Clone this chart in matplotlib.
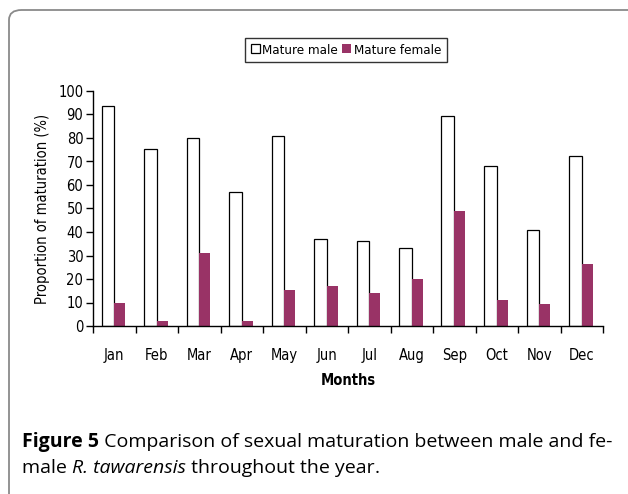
import matplotlib.pyplot as plt
import numpy as np
from matplotlib.patches import FancyBboxPatch
from matplotlib.font_manager import FontProperties

months = ['Jan', 'Feb', 'Mar', 'Apr', 'May', 'Jun', 'Jul', 'Aug', 'Sep', 'Oct', 'Nov', 'Dec']
male = [93.5, 75.5, 80, 57, 81, 37, 36, 33, 89.5, 68, 41, 72.5]
female = [10, 2, 31, 2, 15.5, 17, 14, 20, 49, 11, 9.5, 26.5]
yticks = list(range(0, 101, 10))

cap_font = ['Open Sans', 'DejaVu Sans']

def cfont(size=10.5, weight='normal'):
    return FontProperties(family='DejaVu Sans', stretch='condensed', size=size, weight=weight)

fig = plt.figure(figsize=(6.28, 4.94), dpi=100)

# rounded frame around the figure panel
frame = FancyBboxPatch((9 / 628, -0.2), 1.2, 1.2 - 10 / 494,
                       boxstyle='round,pad=0,rounding_size=0.02',
                       transform=fig.transFigure, facecolor='none',
                       edgecolor='#8a8a8a', linewidth=1.3)
fig.patches.append(frame)

ax = fig.add_axes([93 / 628, 1 - 326 / 494, 510 / 628, 235 / 494])
x = np.arange(len(months))
w = 0.3
ax.bar(x - w / 2, male, width=w, color='white', edgecolor='black', linewidth=0.9,
       label='Mature male')
ax.bar(x + w / 2 - 0.02, female, width=w - 0.04, color='#993366', edgecolor='none',
       label='Mature female')

ax.set_xlim(-0.5, len(months) - 0.5)
ax.set_ylim(0, 100)
ax.set_yticks(yticks)
ax.set_yticklabels([str(t) for t in yticks], fontproperties=cfont())
ax.set_xticks(x)
ax.set_xticklabels(months, fontproperties=cfont())
ax.set_xticks(np.arange(-0.5, len(months)), minor=True)
ax.tick_params(axis='x', which='major', length=0, pad=16)
ax.tick_params(axis='x', which='minor', length=5, width=1, direction='out')
ax.tick_params(axis='y', length=5, width=1, direction='out', pad=2)
for s in ['top', 'right']:
    ax.spines[s].set_visible(False)
ax.spines['left'].set_linewidth(1)
ax.spines['bottom'].set_linewidth(1)

ax.set_xlabel('Months', fontproperties=cfont(weight='bold'), labelpad=7)
ax.set_ylabel('Proportion of maturation (%)', fontproperties=cfont(), labelpad=6)

leg = fig.legend(loc='center', bbox_to_anchor=(346 / 628, 1 - 50 / 494), ncol=2,
                 prop=cfont(9.5), frameon=True, fancybox=False,
                 edgecolor='black', handlelength=0.7, handleheight=0.7,
                 handletextpad=0.2, columnspacing=0.3, borderpad=0.45,
                 borderaxespad=0)
leg.get_frame().set_linewidth(1)

# caption with mixed bold / italic runs
fig.canvas.draw()
renderer = fig.canvas.get_renderer()

def run_line(parts, x0, y0):
    xp = x0
    for txt, kw in parts:
        t = fig.text(xp, y0, txt, fontfamily=cap_font, fontsize=14, va='baseline',
                     transform=None, **kw)
        bb = t.get_window_extent(renderer)
        xp = bb.x1

run_line([('Figure 5', {'fontweight': 'bold'}),
          (' Comparison of sexual maturation between male and fe-', {})],
         22, 494 - 447)
run_line([('male ', {}), ('R. tawarensis', {'fontstyle': 'italic'}),
          (' throughout the year', {}), ('.', {})],
         22, 494 - 473)

fig.savefig('out.png', dpi=100)
